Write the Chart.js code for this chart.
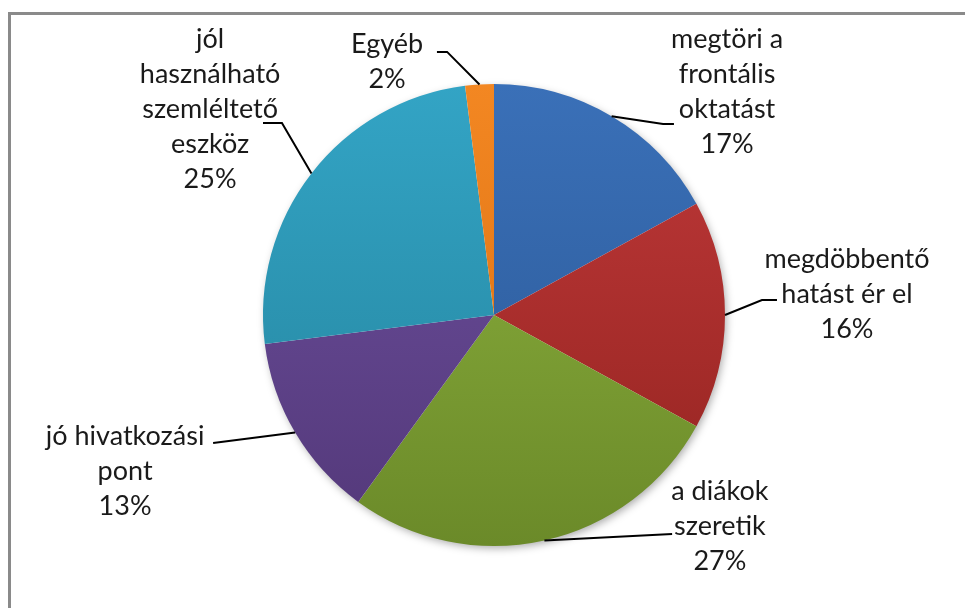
<!DOCTYPE html>
<html>
<head>
<meta charset="utf-8">
<script src="https://cdn.jsdelivr.net/npm/chart.js@4.4.1/dist/chart.umd.min.js"></script>
<style>
  html, body { margin: 0; padding: 0; background: #fff; }
  #wrap { width: 965px; height: 608px; }
</style>
</head>
<body>
<div id="wrap"><canvas id="pie" width="965" height="608"></canvas></div>
<script>
// data
var categories = [
    ['megtöri a', 'frontális', 'oktatást'],
    ['megdöbbentő', 'hatást ér el'],
    ['a diákok', 'szeretik'],
    ['jó hivatkozási', 'pont'],
    ['jól', 'használható', 'szemléltető', 'eszköz'],
    ['Egyéb']
];
var shares = [17, 16, 27, 13, 25, 2];

// slice colours (light at top of the pie, darker at the bottom)
var colorsTop = ['#3a70b8', '#c0393a', '#8fb440', '#6e51a0', '#33a4c5', '#f38722'];
var colorsBottom = ['#2a5794', '#93231f', '#6b8a29', '#533879', '#24839c', '#d66c10'];

// label placement, in pie radii from the centre: label centre, leader elbow, leader end
var labelPos = [
    { x: 1.009, y: -0.965, elbow: [0.732, -0.827], end: [0.779, -0.827] },
    { x: 1.528, y: -0.091, elbow: [1.160, -0.065], end: [1.225, -0.065] },
    { x: 0.978, y: 0.913, elbow: [0.771, 0.948], end: [0.771, 0.948] },
    { x: -1.597, y: 0.675, elbow: [-1.216, 0.554], end: [-1.216, 0.554] },
    { x: -1.229, y: -0.892, elbow: [-0.918, -0.831], end: [-1.0, -0.831] },
    { x: -0.463, y: -1.098, elbow: [-0.203, -1.139], end: [-0.247, -1.139] }
];

var labelFont = '27px Lato, "Open Sans", sans-serif';
var lineHeight = 35;

function sliceFill(context) {
    var chart = context.chart;
    var area = chart.chartArea;
    if (!area) return colorsTop[context.dataIndex];
    var g = chart.ctx.createLinearGradient(0, area.top, 0, area.bottom);
    g.addColorStop(0, colorsTop[context.dataIndex]);
    g.addColorStop(1, colorsBottom[context.dataIndex]);
    return g;
}

var frame = {
    id: 'frame',
    beforeDraw: function(chart) {
        var ctx = chart.ctx;
        ctx.save();
        ctx.fillStyle = '#fff';
        ctx.fillRect(0, 0, chart.width, chart.height);
        ctx.strokeStyle = '#8a8a8a';
        ctx.lineWidth = 3;
        ctx.strokeRect(9.5, 13.5, 1000, 700);
        ctx.restore();
    },
    beforeDatasetsDraw: function(chart) {
        var arc = chart.getDatasetMeta(0).data[0];
        if (!arc) return;
        var ctx = chart.ctx;
        ctx.save();
        ctx.shadowColor = 'rgba(0,0,0,0.35)';
        ctx.shadowBlur = 9;
        ctx.shadowOffsetX = 2;
        ctx.shadowOffsetY = 3;
        ctx.fillStyle = '#fff';
        ctx.beginPath();
        ctx.arc(arc.x, arc.y, arc.outerRadius - 1, 0, Math.PI * 2);
        ctx.fill();
        ctx.restore();
    }
};

var sliceLabels = {
    id: 'sliceLabels',
    afterDatasetsDraw: function(chart) {
        var ctx = chart.ctx;
        var arcs = chart.getDatasetMeta(0).data;
        ctx.save();
        ctx.font = labelFont;
        ctx.fillStyle = '#1a1a1a';
        ctx.textAlign = 'center';
        ctx.textBaseline = 'middle';
        ctx.strokeStyle = '#000';
        ctx.lineWidth = 2;
        for (var i = 0; i < arcs.length; i++) {
            var a = arcs[i];
            var r = a.outerRadius;
            var mid = (a.startAngle + a.endAngle) / 2;
            var p = labelPos[i];
            // leader line
            ctx.beginPath();
            ctx.moveTo(a.x + Math.cos(mid) * r, a.y + Math.sin(mid) * r);
            ctx.lineTo(a.x + p.elbow[0] * r, a.y + p.elbow[1] * r);
            ctx.lineTo(a.x + p.end[0] * r, a.y + p.end[1] * r);
            ctx.stroke();
            // text
            var lines = categories[i].concat([shares[i] + '%']);
            var cx = a.x + p.x * r;
            var cy = a.y + p.y * r;
            var y0 = cy - (lines.length - 1) * lineHeight / 2;
            for (var k = 0; k < lines.length; k++) {
                ctx.fillText(lines[k], cx, y0 + k * lineHeight);
            }
        }
        ctx.restore();
    }
};

var ctx = document.getElementById('pie');
var pieChart = new Chart(ctx, {
    type: 'pie',
    data: {
        labels: categories,
        datasets: [{
            data: shares,
            backgroundColor: sliceFill,
            borderWidth: 0
        }]
    },
    options: {
        responsive: false,
        animation: false,
        layout: {
            padding: { left: 263, right: 240, top: 84, bottom: 62 }
        },
        plugins: {
            legend: { display: false },
            tooltip: { enabled: false }
        }
    },
    plugins: [frame, sliceLabels]
});
</script>
</body>
</html>
